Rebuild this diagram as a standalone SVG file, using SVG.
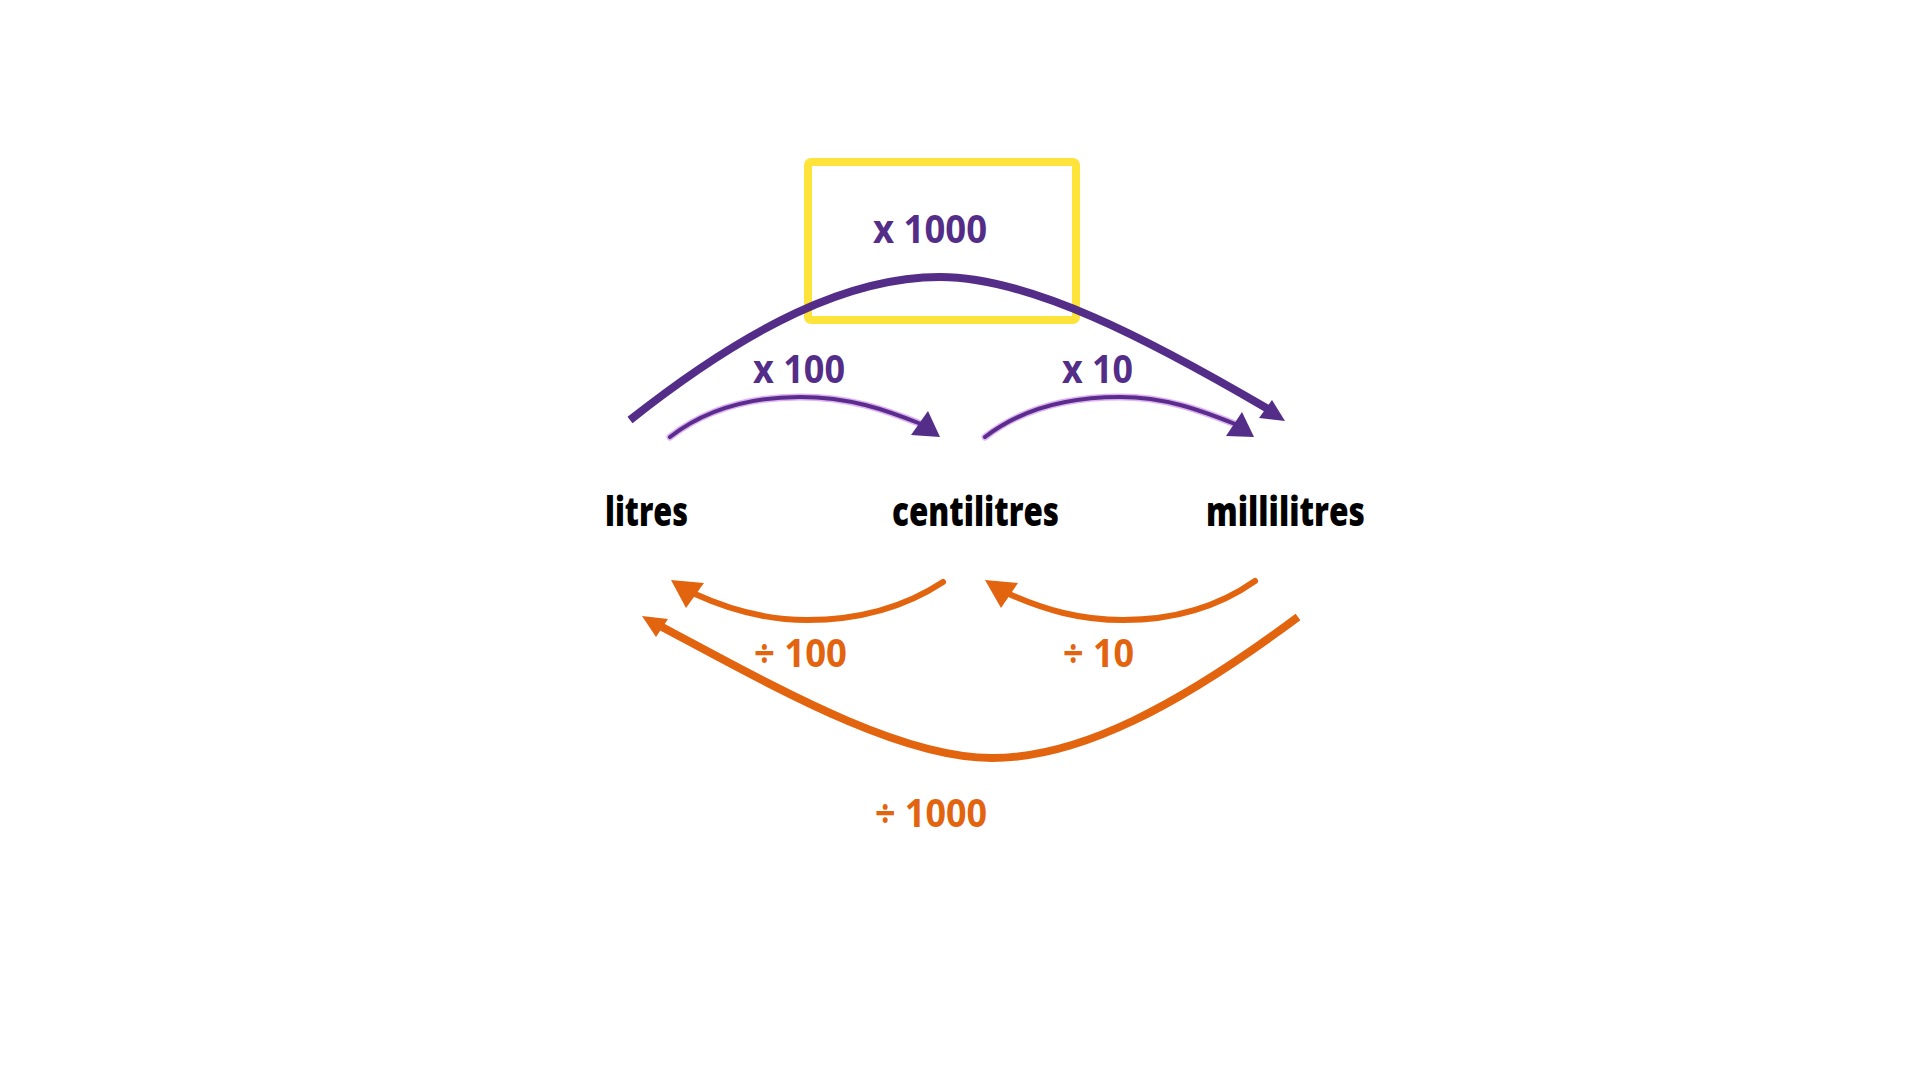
<svg xmlns="http://www.w3.org/2000/svg" width="1920" height="1080" viewBox="0 0 1920 1080">
  <style>
    .unit { font-family: "Open Sans", "Liberation Sans", sans-serif; font-weight: 800; font-size: 40px; fill: #000000; }
    .lbl { font-family: "Open Sans", "Liberation Sans", sans-serif; font-weight: 700; font-size: 39px; }
    .mul { fill: #532d88; }
    .div { fill: #e3640f; }
    .big-p { fill: none; stroke: #532d88; stroke-width: 8; }
    .sm-glow { fill: none; stroke: #d79cf2; stroke-width: 7; stroke-linecap: round; opacity: 0.8; }
    .sm-p { fill: none; stroke: #5a2d8c; stroke-width: 4; stroke-linecap: round; }
    .big-o { fill: none; stroke: #e3640f; stroke-width: 8; }
    .sm-o { fill: none; stroke: #e3640f; stroke-width: 6; stroke-linecap: round; }
    .head-p { fill: #532d88; }
    .head-o { fill: #e3640f; }
  </style>
  <rect x="0" y="0" width="1920" height="1080" fill="#ffffff"/>

  <g id="highlight">
    <rect x="808" y="162" width="268" height="158" rx="3" fill="none" stroke="#fde33a" stroke-width="8"/>
  </g>

  <g id="connectors">
    <!-- x 1000 : litres -> millilitres -->
    <path class="big-p" d="M630,420 C750,325 850,277 940,277 C1030,277 1150,340 1268,409"/>
    <polygon class="head-p" points="1285,421 1259,418 1272,400"/>
    <!-- x 100 : litres -> centilitres -->
    <path class="sm-glow" d="M670,437 C710,406 758,397 800,397 C850,397 886,410 921,424"/>
    <path class="sm-p" d="M670,437 C710,406 758,397 800,397 C850,397 886,410 921,424"/>
    <polygon class="head-p" points="940,437 911,435 928,411"/>
    <!-- x 10 : centilitres -> millilitres -->
    <path class="sm-glow" d="M985,437 C1025,406 1075,397 1120,397 C1165,397 1200,410 1235,424"/>
    <path class="sm-p" d="M985,437 C1025,406 1075,397 1120,397 C1165,397 1200,410 1235,424"/>
    <polygon class="head-p" points="1254,437 1226,436 1242,412"/>
    <!-- ÷ 100 : centilitres -> litres -->
    <path class="sm-o" d="M943,582 C905,607 860,620 807,620 C765,620 730,610 695,594"/>
    <polygon class="head-o" points="671,580 704,583 686,608"/>
    <!-- ÷ 10 : millilitres -> centilitres -->
    <path class="sm-o" d="M1255,581 C1218,607 1175,620 1123,620 C1080,620 1045,610 1009,594"/>
    <polygon class="head-o" points="985,580 1018,583 1001,608"/>
    <!-- ÷ 1000 : millilitres -> litres -->
    <path class="big-o" d="M1298,617 C1180,705 1080,758 992,758 C900,758 780,690 662,627"/>
    <polygon class="head-o" points="642,616 668,619 656,637"/>

    <text class="lbl mul" x="873" y="243" textLength="114" lengthAdjust="spacingAndGlyphs">x 1000</text>
    <text class="lbl mul" x="753" y="383" textLength="92" lengthAdjust="spacingAndGlyphs">x 100</text>
    <text class="lbl mul" x="1062" y="383" textLength="71" lengthAdjust="spacingAndGlyphs">x 10</text>
    <text class="lbl div" x="754" y="667" textLength="93" lengthAdjust="spacingAndGlyphs">÷ 100</text>
    <text class="lbl div" x="1063" y="667" textLength="71" lengthAdjust="spacingAndGlyphs">÷ 10</text>
    <text class="lbl div" x="875" y="827" textLength="112" lengthAdjust="spacingAndGlyphs">÷ 1000</text>
  </g>

  <g id="node-litres">
    <text class="unit" x="605" y="526" textLength="83" lengthAdjust="spacingAndGlyphs">litres</text>
  </g>
  <g id="node-centilitres">
    <text class="unit" x="892" y="526" textLength="167" lengthAdjust="spacingAndGlyphs">centilitres</text>
  </g>
  <g id="node-millilitres">
    <text class="unit" x="1206" y="526" textLength="159" lengthAdjust="spacingAndGlyphs">millilitres</text>
  </g>
</svg>
